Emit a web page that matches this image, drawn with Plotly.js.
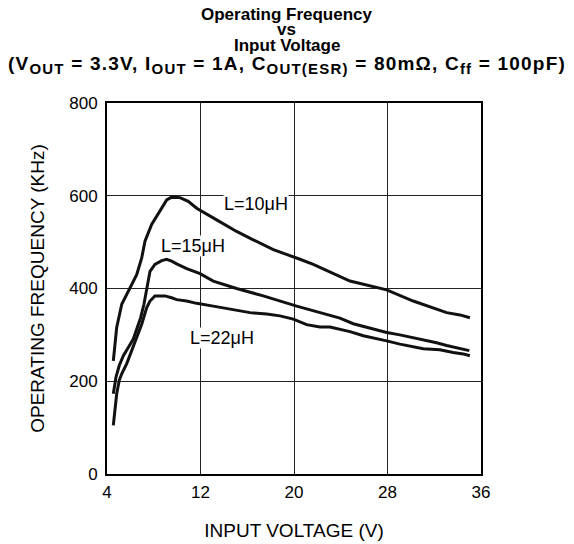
<!DOCTYPE html>
<html>
<head>
<meta charset="utf-8">
<script src="https://cdn.plot.ly/plotly-3.0.1.min.js"></script>
<style>html,body{margin:0;padding:0;background:#fff;}#chart{width:574px;height:544px;}</style>
</head>
<body>
<div id="chart"></div>
<script>
// Input voltage (V) and operating frequency (kHz) for each inductor value
const v10 = [4.54, 4.83, 5.26, 5.97, 6.54, 6.97, 7.25, 7.82, 8.53, 9.11, 9.53, 10.24, 10.95, 11.67, 13.38, 15.09, 16.51, 18.23, 20.51, 21.65, 24.79, 27.93, 30.2, 31.9, 33.06, 34.2, 35.05];
const f10 = [244, 316, 366, 402, 430, 466, 502, 538, 566, 591, 597, 596, 588, 573, 548, 523, 505, 484, 463, 452, 416, 397, 373, 359, 348, 343, 337];

const v15 = [4.54, 4.77, 5.05, 5.4, 5.82, 6.25, 6.59, 6.88, 7.16, 7.4, 7.68, 8.1, 8.68, 9.11, 9.53, 9.96, 10.82, 11.96, 13.09, 15.09, 17.37, 20.23, 21.65, 23.93, 25.07, 27.93, 29.06, 30.77, 32.2, 33.06, 33.91, 34.48, 35.0];
const f15 = [173, 209, 234, 255, 273, 291, 316, 337, 366, 402, 437, 452, 460, 463, 459, 453, 443, 432, 416, 400, 384, 362, 352, 336, 324, 305, 300, 291, 283, 277, 272, 270, 266];

const v22 = [4.54, 4.68, 4.83, 5.05, 5.26, 5.69, 6.11, 6.54, 6.97, 7.4, 7.68, 8.1, 8.96, 9.53, 9.96, 10.82, 11.67, 13.09, 14.52, 16.23, 17.66, 18.8, 19.94, 21.08, 22.22, 23.08, 24.79, 25.93, 27.93, 29.06, 31.06, 32.48, 33.62, 34.48, 35.05];
const f22 = [105, 137, 173, 202, 216, 238, 266, 294, 323, 359, 373, 384, 384, 380, 376, 373, 368, 362, 355, 348, 345, 341, 334, 322, 317, 317, 307, 298, 287, 280, 270, 268, 262, 259, 255];

const seriesNames = ['L=10μH', 'L=15μH', 'L=22μH'];
const xTicks = [4, 12, 20, 28, 36];
const yTicks = [0, 200, 400, 600, 800];
const S = s => '<sub><span style="font-size:15px">' + s + '</span></sub>';
const titleLines = [
  '<b>Operating Frequency</b>',
  '<b>vs</b>',
  '<b>Input Voltage</b>',
  '<span style="letter-spacing:1.2px"><b>(V' + S('OUT') + ' = 3.3V, I' + S('OUT') + ' = 1A, C' + S('OUT(ESR)') + ' = 80mΩ, C' + S('ff') + ' = 100pF)</b></span>'
];

const FONT = 'Liberation Sans, Arial, sans-serif';
const lineStyle = {color: '#111', width: 3};

const traces = [
  {x: v10, y: f10, name: seriesNames[0], mode: 'lines', line: lineStyle},
  {x: v15, y: f15, name: seriesNames[1], mode: 'lines', line: lineStyle},
  {x: v22, y: f22, name: seriesNames[2], mode: 'lines', line: lineStyle}
];

const titleY = [1.239, 1.197, 1.155, 1.103];
const titleSize = [17, 17, 17, 19];
const annotations = titleLines.map((t, i) => ({
  text: t, xref: 'paper', yref: 'paper', x: 0.481, y: titleY[i],
  xanchor: 'center', yanchor: 'middle', showarrow: false,
  font: {family: FONT, size: titleSize[i], color: '#000'}
}));

const labelPos = [[16.75, 583], [11.4, 491], [13.8, 294]];
seriesNames.forEach((n, i) => {
  annotations.push({
    text: n, x: labelPos[i][0], y: labelPos[i][1], xref: 'x', yref: 'y',
    showarrow: false, bgcolor: '#fff', borderpad: 0,
    font: {family: FONT, size: 18, color: '#000'}
  });
});

const layout = {
  width: 574, height: 544,
  margin: {l: 107, r: 93, t: 103, b: 70},
  paper_bgcolor: '#fff', plot_bgcolor: '#fff',
  showlegend: false,
  font: {family: FONT, size: 17, color: '#000'},
  xaxis: {
    range: [4, 36], tickvals: xTicks, ticktext: xTicks.map(String),
    showgrid: true, gridcolor: '#222', gridwidth: 1,
    showline: true, linecolor: '#000', linewidth: 2, mirror: true,
    zeroline: false, ticks: '', ticklabelstandoff: 2,
    tickfont: {family: FONT, size: 17},
    title: {text: 'INPUT VOLTAGE (V)', font: {family: FONT, size: 19}, standoff: 22}
  },
  yaxis: {
    range: [0, 800], tickvals: yTicks, ticktext: yTicks.map(String),
    showgrid: true, gridcolor: '#222', gridwidth: 1,
    showline: true, linecolor: '#000', linewidth: 2, mirror: true,
    zeroline: false, ticks: '', ticklabelstandoff: 4,
    tickfont: {family: FONT, size: 17},
    title: {text: 'OPERATING FREQUENCY (KHz)', font: {family: FONT, size: 19}, standoff: 20}
  },
  annotations: annotations
};

Plotly.newPlot('chart', traces, layout, {displayModeBar: false, staticPlot: true});
</script>
</body>
</html>
